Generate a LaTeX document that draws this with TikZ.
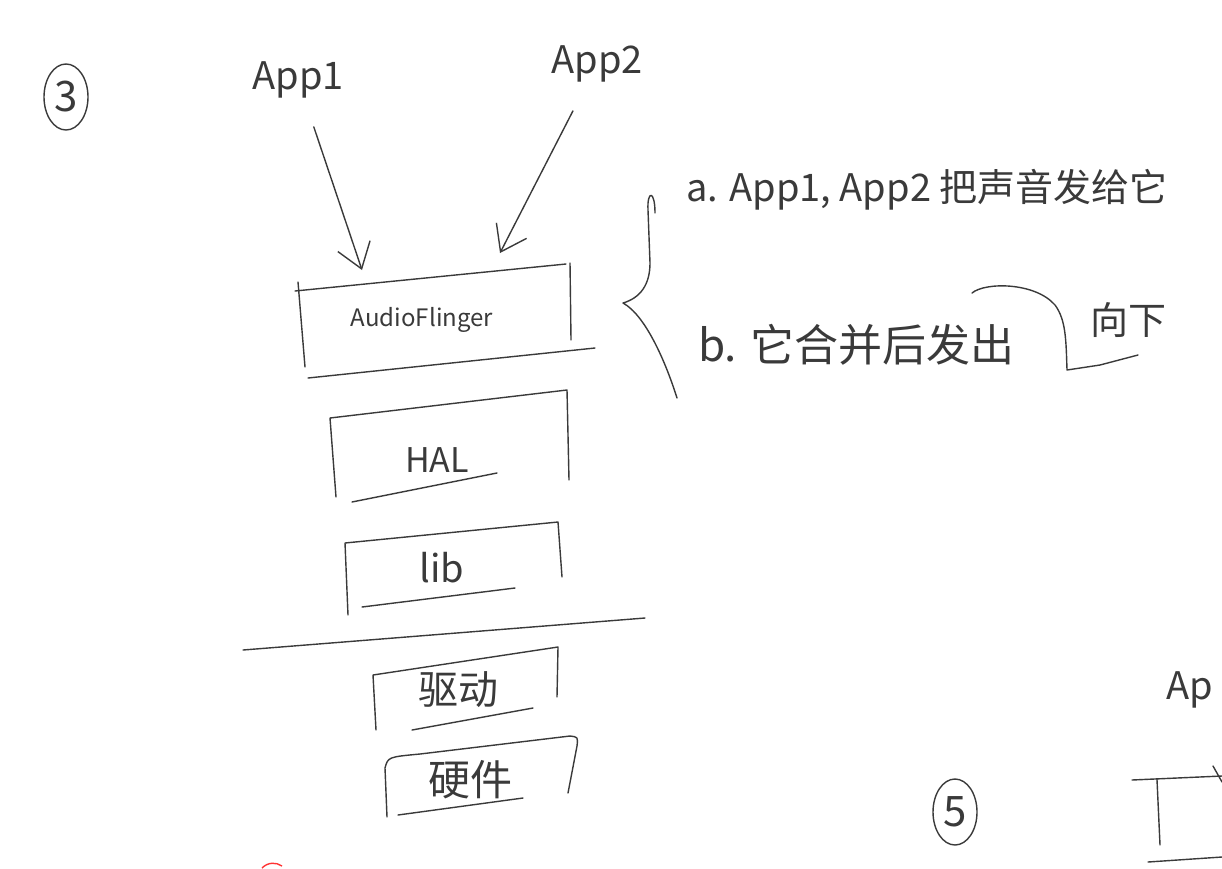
\documentclass[tikz,border=0pt]{standalone}
\usepackage{fontspec}
\setmainfont{Noto Sans CJK SC}
\usepackage{tikz}
\usetikzlibrary{arrows.meta,shapes.geometric}
\definecolor{ink}{HTML}{3A3A3A}
\newcommand{\fs}[1]{\fontsize{#1}{#1}\selectfont}

\begin{document}
\begin{tikzpicture}[x=1pt,y=-1pt,
  pen/.style={draw=ink,line width=1.4pt,line cap=round,line join=round},
  every node/.style={text=ink,inner sep=0pt},
  num/.style={pen,ellipse,minimum width=44pt,minimum height=66pt,font=\fs{42}},
  push/.style={pen,-{Straight Barb[length=24pt,width=34pt,line width=1.4pt]}}]
  \useasboundingbox (0,0) rectangle (1222,868);
  \clip (0,0) rectangle (1222,868);
  \node[num] (n3) at (66,97) {3};
  \node[font=\fs{38}] (app1) at (298,80) {App1};
  \node[font=\fs{38}] (app2) at (597,64) {App2};
  \coordinate (af1) at (362,270);
  \coordinate (af2) at (500,253);
  \draw[push,shorten <=30pt] (app1) -- (af1);
  \draw[push,shorten <=32pt] (app2) -- (af2);
  \draw[pen] (295,291) -- (566,264) (298,282) -- (305,367) (570,263) -- (571,340) (308,378) -- (595,348);
  \node[font=\fs{24}] (af) at (422,320) {AudioFlinger};
  \draw[pen] (336,497) -- (330,418) -- (567,390) -- (569,480) (352,502) -- (497,473);
  \node[font=\fs{34}] (hal) at (437,460) {HAL};
  \draw[pen] (348,615) -- (345,543) -- (558,522) -- (562,577) (362,607) -- (515,588);
  \node[font=\fs{38}] (lib) at (442,568) {lib};
  \draw[pen] (243,650) -- (645,618);
  \draw[pen] (376,730) -- (373,675) -- (558,647) -- (557,697) (412,730) -- (533,708);
  \node[font=\fs{40}] (drv) at (458,690) {驱动};
  \draw[pen] (387,817) -- (385,768) .. controls (388,757) .. (420,754) -- (570,736) .. controls (578,737) .. (577,746) -- (568,793) (398,815) -- (523,798);
  \node[font=\fs{42}] (hw) at (470,780) {硬件};
  \draw[pen] (655,213) .. controls (655,190) and (647,190) .. (648,210) -- (650,263) .. controls (650,285) and (640,298) .. (623,303) .. controls (645,315) and (665,360) .. (677,398);
  \node[font=\fs{38},anchor=west] (ta) at (686,190) {a. App1, App2 把声音发给它};
  \node[font=\fs{44},anchor=west] (tb) at (698,345) {b. 它合并后发出};
  \draw[pen] (972,293) .. controls (985,282) and (1035,282) .. (1055,305) .. controls (1066,320) and (1066,340) .. (1067,370) -- (1100,365) -- (1138,355);
  \node[font=\fs{38}] (down) at (1128,320) {向下};
  \node[num] (n5) at (955,812) {5};
  \node[font=\fs{38},anchor=west] (app3) at (1166,690) {Ap};
  \draw[pen] (1132,780) -- (1222,776) (1157,780) -- (1160,845) (1148,862) -- (1222,857) (1213,766) -- (1222,782);
  \draw[red!80,line width=1.4pt] (262,868) .. controls (268,862) and (276,862) .. (282,866);
\end{tikzpicture}
\end{document}
